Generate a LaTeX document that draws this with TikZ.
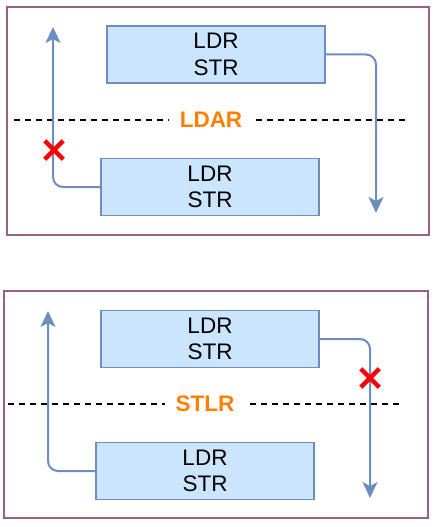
\documentclass[tikz,border=0pt]{standalone}
\usepackage{fontspec}
\setmainfont{Liberation Sans}
\usepackage{xcolor}
\usetikzlibrary{positioning,arrows.meta,shapes.misc}
\definecolor{boxfill}{HTML}{CCE5FF}
\definecolor{linecol}{HTML}{6C8EBF}
\definecolor{framecol}{HTML}{996185}
\definecolor{kindcol}{HTML}{FF8000}

\begin{document}
\begin{tikzpicture}[x=1pt,y=-1pt]
\tikzstyle{panel}=[draw=framecol, line width=2pt]
\tikzstyle{op}=[rectangle, draw=linecol, fill=boxfill, line width=1.6pt, minimum width=218pt, minimum height=57pt, align=center, font=\fontsize{22.5}{26.5}\selectfont]
\tikzstyle{connect}=[-{Stealth[length=16pt,width=15pt,inset=4pt]}, draw=linecol, line width=2pt, rounded corners=10pt]
\tikzstyle{fence}=[line width=2pt, dash pattern=on 6pt off 5pt]
\tikzstyle{kind}=[fill=white, inner xsep=11pt, text=kindcol, font=\fontsize{22.5}{26.5}\selectfont\bfseries]
\tikzstyle{blocked}=[cross out, draw=red, line width=4.5pt, minimum size=14pt, inner sep=0pt]
\useasboundingbox (0,0) rectangle (435,527);
  % LDAR
  \draw[panel] (7,7) rectangle (429,235);
  \node[op] (ldrA) at (216,54.5) {LDR\\STR};
  \node[op] (ldrB) at (210,187) {LDR\\STR};
  \coordinate (upA) at (53,27);
  \coordinate (downA) at (376,213);
  \draw[fence] (14,120) -- (407,120);
  \node[kind] (ldar) at (211,120) {LDAR};
  \draw[connect] (ldrB.west) -| (upA);
  \draw[connect] (ldrA.east) -| (downA);
  \node[blocked] (stopA) at (54,150) {};
  % STLR
  \draw[panel] (4,291) rectangle (428,518);
  \node[op] (ldrC) at (210,339) {LDR\\STR};
  \node[op] (ldrD) at (205,471) {LDR\\STR};
  \coordinate (upB) at (48,311);
  \coordinate (downB) at (370,498);
  \draw[fence] (8,404) -- (402,404);
  \node[kind] (stlr) at (205,404) {STLR};
  \draw[connect] (ldrD.west) -| (upB);
  \draw[connect] (ldrC.east) -| (downB);
  \node[blocked] (stopB) at (370,378) {};
\end{tikzpicture}
\end{document}
